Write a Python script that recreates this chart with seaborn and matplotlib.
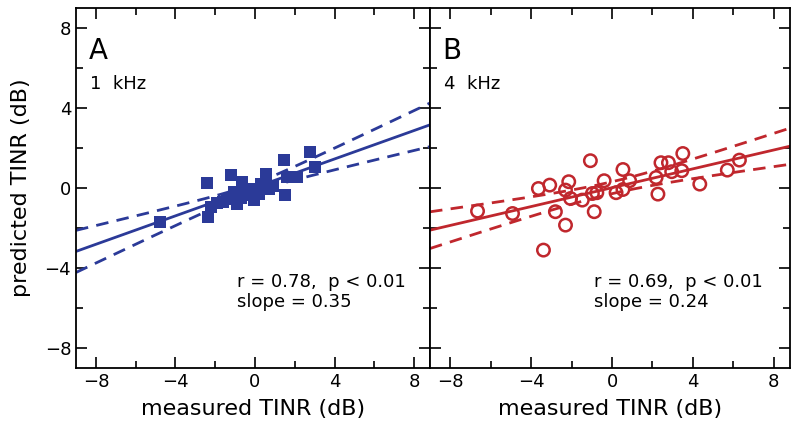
import numpy as np
import pandas as pd
import matplotlib
matplotlib.use("Agg")
import matplotlib.pyplot as plt
import seaborn as sns
from matplotlib.ticker import MultipleLocator

# ---- data ----
a_measured = [-4.8, -2.42, -2.38, -2.22, -1.90, -1.63, -1.40, -1.22, -1.05, -0.88,
              -0.70, -0.63, -0.55, -0.30, -0.05, -0.05, 0.20, 0.28, 0.53, 0.70,
              0.90, 1.45, 1.53, 1.62, 2.12, 2.78, 3.03]
a_predicted = [-1.70, 0.28, -1.43, -0.93, -0.75, -0.68, -0.55, 0.65, -0.18, -0.77,
               -0.50, 0.32, -0.18, -0.35, -0.02, -0.60, -0.30, 0.23, 0.73, -0.02,
               0.10, 1.40, -0.35, 0.57, 0.57, 1.82, 1.07]

b_measured = [-6.65, -4.92, -3.64, -3.39, -3.08, -2.80, -2.30, -2.14, -2.30, -2.05,
              -1.47, -1.07, -0.88, -0.97, -0.75, -0.39, 0.20, 0.54, 0.54, 0.87,
              2.18, 2.27, 2.42, 2.79, 2.95, 3.45, 3.50, 4.34, 5.70, 6.30]
b_predicted = [-1.15, -1.27, -0.02, -3.10, 0.15, -1.18, -1.85, 0.32, -0.10, -0.52,
               -0.60, 1.37, -1.18, -0.27, -0.23, 0.37, -0.23, 0.93, -0.07, 0.37,
               0.53, -0.30, 1.27, 1.27, 0.82, 0.87, 1.73, 0.20, 0.90, 1.40]

panel_letters = ["A", "B"]
panel_freqs = ["1  kHz", "4  kHz"]
stats_lines = [["r = 0.78,  p < 0.01", "slope = 0.35"],
               ["r = 0.69,  p < 0.01", "slope = 0.24"]]
x_ticks = [-8, -4, 0, 4, 8]
y_ticks = [-8, -4, 0, 4, 8]
x_label = "measured TINR (dB)"
y_label = "predicted TINR (dB)"

colors = ["#2B3A98", "#C0272D"]

sns.set_theme(style="ticks")
plt.rcParams["font.family"] = ["DejaVu Sans"]
plt.rcParams["text.color"] = "black"
plt.rcParams["axes.labelcolor"] = "black"
plt.rcParams["xtick.color"] = "black"
plt.rcParams["ytick.color"] = "black"

fig = plt.figure(figsize=(8.0, 4.28), dpi=100)
ax_a = fig.add_axes([0.095, 0.14, 0.4425, 0.841])
ax_b = fig.add_axes([0.5375, 0.14, 0.4500, 0.841])
axes = [ax_a, ax_b]

XLIM = (-9.0, 8.8)
YLIM = (-9.0, 9.0)


def fit_band(x, y, grid):
    x = np.asarray(x); y = np.asarray(y)
    n = len(x)
    b, a = np.polyfit(x, y, 1)
    yhat = a + b * grid
    resid = y - (a + b * x)
    s = np.sqrt(np.sum(resid ** 2) / (n - 2))
    xm = x.mean()
    sxx = np.sum((x - xm) ** 2)
    se = s * np.sqrt(1.0 / n + (grid - xm) ** 2 / sxx)
    t = 2.05
    return yhat, yhat - t * se, yhat + t * se


datasets = [(a_measured, a_predicted, "s"), (b_measured, b_predicted, "o")]
for i, (ax, (xm_, yp_, mk)) in enumerate(zip(axes, datasets)):
    col = colors[i]
    df = pd.DataFrame({"measured": xm_, "predicted": yp_})
    grid = np.linspace(XLIM[0], XLIM[1], 200)
    yhat, lo, hi = fit_band(xm_, yp_, grid)
    lines = pd.DataFrame({"x": grid, "fit": yhat, "lo": lo, "hi": hi})
    sns.lineplot(data=lines, x="x", y="fit", ax=ax, color=col, lw=2.0)
    for c in ["lo", "hi"]:
        sns.lineplot(data=lines, x="x", y=c, ax=ax, color=col, lw=2.0,
                     dashes=False, linestyle=(0, (4.5, 3.0)))
    if mk == "s":
        sns.scatterplot(data=df, x="measured", y="predicted", ax=ax, marker="s",
                        s=75, color=col, edgecolor=col, linewidth=0, zorder=3)
    else:
        sns.scatterplot(data=df, x="measured", y="predicted", ax=ax, marker="o",
                        s=80, facecolor="none", edgecolor=col, linewidth=1.8, zorder=3)

    ax.set_xlim(*XLIM)
    ax.set_ylim(*YLIM)
    ax.set_xticks(x_ticks)
    ax.set_yticks(y_ticks)
    ax.xaxis.set_minor_locator(MultipleLocator(2))
    ax.yaxis.set_minor_locator(MultipleLocator(2))
    ax.tick_params(which="both", direction="in", top=True, right=True,
                   width=1.2, colors="black", labelsize=13)
    ax.tick_params(which="major", length=8)
    ax.tick_params(which="minor", length=5)
    for sp in ax.spines.values():
        sp.set_linewidth(1.3)
        sp.set_color("black")
    ax.set_xlabel(x_label, fontsize=16, labelpad=6)
    ax.set_ylabel("")
    ax.text(0.035, 0.88, panel_letters[i], transform=ax.transAxes,
            fontsize=20, ha="left", va="center")
    ax.text(0.04, 0.79, panel_freqs[i], transform=ax.transAxes,
            fontsize=13, ha="left", va="center")
    ax.text(0.455, 0.239, stats_lines[i][0], transform=ax.transAxes,
            fontsize=13, ha="left", va="center")
    ax.text(0.455, 0.183, stats_lines[i][1], transform=ax.transAxes,
            fontsize=13, ha="left", va="center")
    ax.grid(False)

ax_a.set_ylabel(y_label, fontsize=16, labelpad=10)
ax_b.tick_params(which="both", labelleft=False)

fig.savefig("out.png", dpi=100)
